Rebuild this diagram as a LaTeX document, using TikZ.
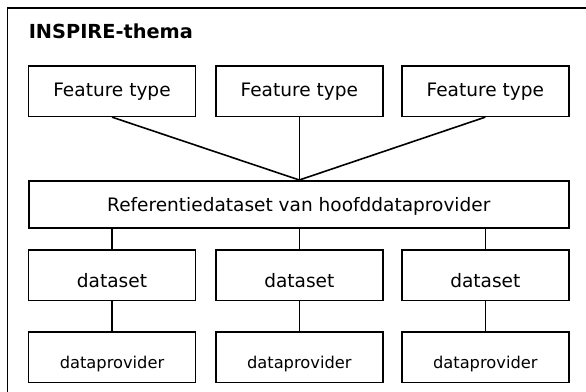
\documentclass[tikz,border=0pt]{standalone}
\usepackage{fontspec}
\setmainfont{DejaVu Sans}
\begin{document}
\begin{tikzpicture}[x=0.75pt,y=-0.75pt,
  line width=1.2pt,
  box/.style={draw=black, line width=1.2pt, inner sep=0pt, anchor=north west,
    minimum width=125.25pt, minimum height=37.9pt, font=\fontsize{13.9}{16}\selectfont},
  ftbox/.style={box, text height=7.8pt, text depth=0pt},
  dsbox/.style={box, text height=17.5pt, text depth=0pt},
  dpbox/.style={box, font=\fontsize{12.2}{14}\selectfont, text height=16.5pt, text depth=0pt},
  refbox/.style={box, minimum width=405pt, minimum height=35.25pt, text height=10.2pt, text depth=0pt},
  conn/.style={draw=black, line width=1.2pt}]
\useasboundingbox (0,0) rectangle (586,392);
\clip (0,0) rectangle (586,392);
\fill[white] (0,0) rectangle (586,392);
\draw[line width=1.2pt] (7.3,8.3) rectangle (620,420);
\node[anchor=base west, inner sep=0pt, font=\fontsize{14.5}{17}\bfseries\selectfont] (title) at (28,38.3) {INSPIRE-thema};

\node[ftbox] (f1) at (27.7,65) {Feature type};
\node[ftbox] (f2) at (215,65) {Feature type};
\node[ftbox] (f3) at (401,65) {Feature type};

\node[refbox] (ref) at (28,180) {Referentiedataset van hoofddataprovider};

\node[dsbox] (d1) at (27.7,249.3) {dataset};
\node[dsbox] (d2) at (215,249.3) {dataset};
\node[dsbox] (d3) at (401,249.3) {dataset};

\node[dpbox] (p1) at (27.7,331) {dataprovider};
\node[dpbox] (p2) at (215,331) {dataprovider};
\node[dpbox] (p3) at (401,331) {dataprovider};

\draw[conn] (f1.south) -- (ref.north -| f2.south);
\draw[conn] (f2.south) -- (ref.north -| f2.south);
\draw[conn] (f3.south) -- (ref.north -| f2.south);

\draw[conn] (ref.south -| d1.north) -- (d1.north);
\draw[conn] (ref.south -| d2.north) -- (d2.north);
\draw[conn] (ref.south -| d3.north) -- (d3.north);

\draw[conn] (d1.south) -- (p1.north);
\draw[conn] (d2.south) -- (p2.north);
\draw[conn] (d3.south) -- (p3.north);
\end{tikzpicture}
\end{document}
